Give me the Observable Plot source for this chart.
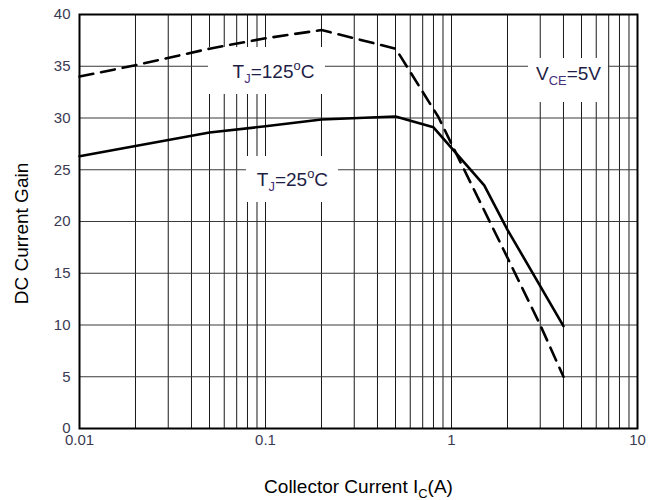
<!DOCTYPE html>
<html><head><meta charset="utf-8">
<script src="https://cdn.jsdelivr.net/npm/d3@7"></script>
<script src="https://cdn.jsdelivr.net/npm/@observablehq/plot@0.6"></script>
<style>body{margin:0;background:#fff} svg{display:block}</style>
</head><body><div id="chart"></div>
<script>
// Collector current (A) and DC current gain
const x125 = [0.01, 0.02, 0.05, 0.1, 0.2, 0.5, 0.53, 0.85, 1, 2, 3, 4];
const y125 = [34.0, 35.1, 36.7, 37.7, 38.5, 36.7, 36.0, 30.1, 27.5, 16.5, 10.0, 5.0];
const x25 = [0.01, 0.02, 0.05, 0.1, 0.2, 0.5, 0.8, 1.5, 2, 4];
const y25 = [26.3, 27.3, 28.6, 29.2, 29.85, 30.15, 29.1, 23.5, 19.2, 9.9];

const xTicks = [0.01, 0.1, 1, 10];
const xTickLabels = ["0.01", "0.1", "1", "10"];
const yTicks = [0, 5, 10, 15, 20, 25, 30, 35, 40];
const gridX = [0.02,0.03,0.04,0.05,0.06,0.07,0.08,0.09,0.1,
               0.2,0.3,0.4,0.5,0.6,0.7,0.8,0.9,1,
               2,3,4,5,6,7,8,9];
const gridY = [5, 10, 15, 20, 25, 30, 35];

// annotations (text in data coordinates; white boxes behind them)
const labelText = ["T_{J}=125^{o}C", "T_{J}=25^{o}C", "V_{CE}=5V"];
const labelX = [0.1104, 0.1396, 4.26];
const labelY = [34.49, 24.06, 34.30];
const boxX1 = [0.0494, 0.0790, 2.594];
const boxX2 = [0.210, 0.247, 6.98];
const boxY1 = [32.27, 21.84, 31.5];
const boxY2 = [36.81, 26.28, 35.75];

const yTitle = "DC Current Gain";
const xTitle = "Collector Current I_{C}(A)";

const d125 = x125.map((x, i) => ({x, y: y125[i]}));
const d25 = x25.map((x, i) => ({x, y: y25[i]}));
const labels = labelText.map((t, i) => ({t, x: labelX[i], y: labelY[i]}));
const boxes = boxX1.map((x1, i) => ({x1, x2: boxX2[i], y1: boxY1[i], y2: boxY2[i]}));

const font = "'Liberation Sans', Arial, Helvetica, sans-serif";

const chart = Plot.plot({
  width: 660, height: 500,
  marginLeft: 79, marginRight: 23, marginTop: 14, marginBottom: 72,
  style: {fontFamily: font, background: "#fff", overflow: "visible"},
  x: {type: "log", domain: [0.01, 10]},
  y: {domain: [0, 40]},
  marks: [
    Plot.ruleX(gridX, {stroke: "#1a1a1a", strokeWidth: 1}),
    Plot.ruleY(gridY, {stroke: "#3a3a3a", strokeWidth: 1}),
    Plot.rect(boxes, {x1: "x1", x2: "x2", y1: "y1", y2: "y2", fill: "white"}),
    Plot.line(d125, {x: "x", y: "y", stroke: "#000", strokeWidth: 2.6, strokeDasharray: "14,8"}),
    Plot.line(d25, {x: "x", y: "y", stroke: "#000", strokeWidth: 2.6}),
    Plot.text(labels, {x: "x", y: "y", text: "t", fontSize: 19, fill: "#1e1e46"}),
    Plot.axisX({ticks: xTicks, tickSize: 0, tickPadding: 6, fontSize: 15, fill: "#3a3a52",
      tickFormat: d => xTickLabels[xTicks.indexOf(d)], label: null}),
    Plot.axisY({ticks: yTicks, tickSize: 0, tickPadding: 9, fontSize: 15, fill: "#3a3a52", label: null}),
    Plot.frame({stroke: "#000", strokeWidth: 2}),
    Plot.text([yTitle], {text: d => d, frameAnchor: "left", textAnchor: "middle", lineAnchor: "middle",
      rotate: -90, dx: -58, dy: 12, fontSize: 19, fill: "#000"}),
    Plot.text([xTitle], {text: d => d, frameAnchor: "bottom", textAnchor: "middle", lineAnchor: "middle",
      dy: 58, fontSize: 19, fill: "#000"})
  ]
});

// rich text: _{..} subscripts and ^{..} superscripts
const NS = "http://www.w3.org/2000/svg";
d3.select(chart).selectAll("text").each(function() {
  const s = this.textContent;
  if (!/[_^]\{/.test(s)) return;
  const isLabel = labelText.includes(s);
  this.textContent = "";
  let shift = 0;
  for (const m of s.matchAll(/([_^])\{([^}]*)\}|([^_^]+)/g)) {
    const t = document.createElementNS(NS, "tspan");
    if (m[1]) {
      const d = m[1] === "_" ? 5 : -8;
      t.setAttribute("dy", d - shift);
      shift = d;
      t.setAttribute("font-size", "0.68em");
      if (isLabel && m[1] === "_") t.setAttribute("fill", "#45307a");
      t.textContent = m[2];
    } else {
      if (shift) t.setAttribute("dy", -shift);
      shift = 0;
      t.textContent = m[3];
    }
    this.appendChild(t);
  }
});

document.getElementById("chart").appendChild(chart);
</script>
</body></html>
